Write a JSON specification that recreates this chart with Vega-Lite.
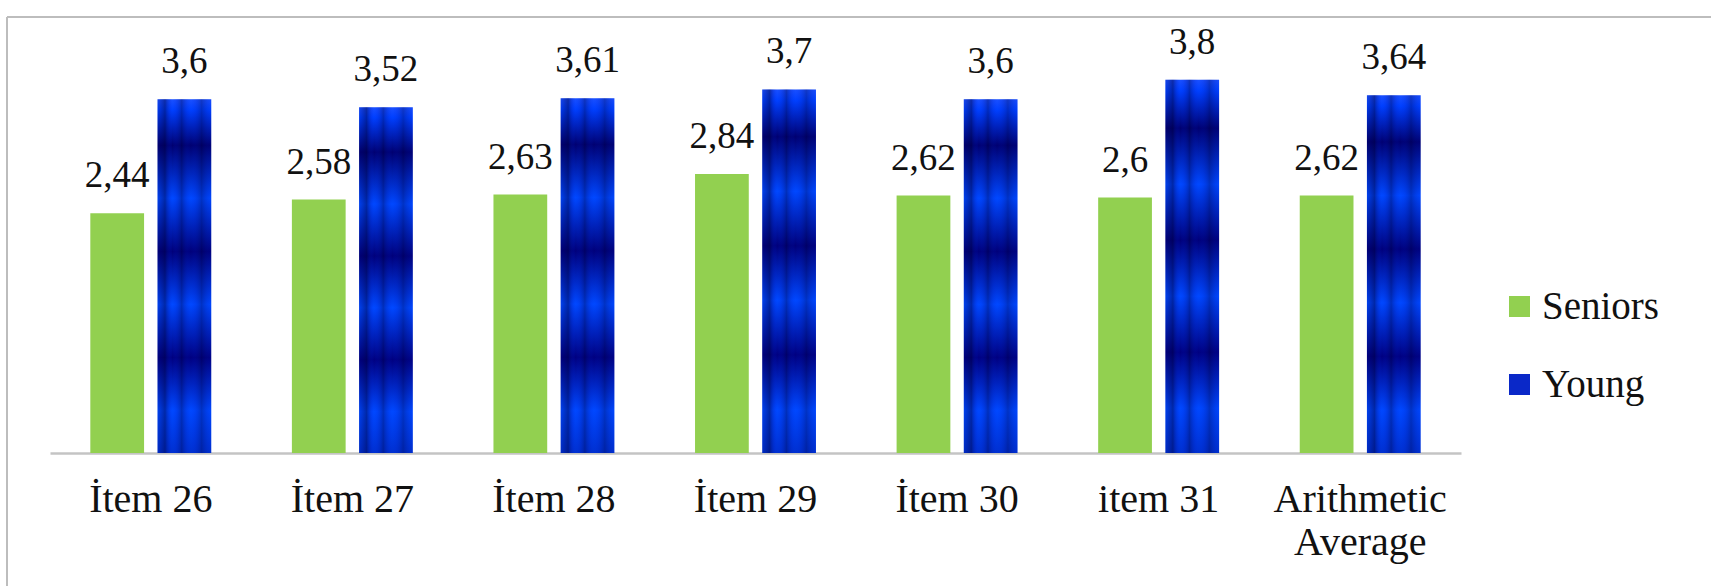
{
  "$schema": "https://vega.github.io/schema/vega-lite/v6.json",
  "width": 1704,
  "height": 569,
  "padding": {"left": 7, "top": 17, "right": 0, "bottom": 0},
  "autosize": {"type": "none"},
  "config": {
    "view": {"stroke": null},
    "font": "Liberation Serif",
    "locale": {
      "number": {"decimal": ",", "thousands": ".", "grouping": [3], "currency": ["", " €"]}
    }
  },
  "resolve": {"scale": {"x": "independent", "y": "independent"}},
  "layer": [
    {
      "data": {
        "values": [
          {"item": "İtem 26", "group": "Seniors", "value": 2.44},
          {"item": "İtem 26", "group": "Young", "value": 3.6},
          {"item": "İtem 27", "group": "Seniors", "value": 2.58},
          {"item": "İtem 27", "group": "Young", "value": 3.52},
          {"item": "İtem 28", "group": "Seniors", "value": 2.63},
          {"item": "İtem 28", "group": "Young", "value": 3.61},
          {"item": "İtem 29", "group": "Seniors", "value": 2.84},
          {"item": "İtem 29", "group": "Young", "value": 3.7},
          {"item": "İtem 30", "group": "Seniors", "value": 2.62},
          {"item": "İtem 30", "group": "Young", "value": 3.6},
          {"item": "item 31", "group": "Seniors", "value": 2.6},
          {"item": "item 31", "group": "Young", "value": 3.8},
          {"item": "Arithmetic Average", "group": "Seniors", "value": 2.62},
          {"item": "Arithmetic Average", "group": "Young", "value": 3.64}
        ]
      },
      "encoding": {
        "x": {
          "field": "item",
          "type": "nominal",
          "scale": {
            "domain": ["İtem 26", "İtem 27", "İtem 28", "İtem 29", "İtem 30", "item 31", "Arithmetic Average"],
            "range": [43, 1454],
            "paddingInner": 0.4,
            "paddingOuter": 0.2
          },
          "axis": {
            "title": null,
            "orient": "bottom",
            "offset": -133,
            "ticks": false,
            "grid": false,
            "domainColor": "#c4c4c4",
            "domainWidth": 2.5,
            "labelFont": "Liberation Serif",
            "labelFontSize": 40,
            "labelColor": "#111111",
            "labelAngle": 0,
            "labelBaseline": "alphabetic",
            "labelPadding": 58,
            "labelLineHeight": 43,
            "labelOverlap": false,
            "labelLimit": 0,
            "labelExpr": "datum.value == 'Arithmetic Average' ? ['Arithmetic', 'Average'] : datum.label"
          }
        },
        "xOffset": {
          "field": "group",
          "type": "nominal",
          "scale": {"domain": ["Seniors", "Young"], "paddingInner": 0.2, "paddingOuter": 0}
        },
        "y": {
          "field": "value",
          "type": "quantitative",
          "scale": {"domain": [0, 4], "range": [436, 43], "nice": false},
          "axis": null
        }
      },
      "layer": [
        {
          "transform": [{"filter": "datum.group == 'Seniors'"}],
          "mark": {"type": "bar"},
          "encoding": {
            "color": {
              "field": "group",
              "type": "nominal",
              "scale": {"domain": ["Seniors", "Young"], "range": ["#92d050", "#0a28c8"]},
              "legend": {
                "title": null,
                "orient": "none",
                "legendX": 1493,
                "legendY": 270,
                "padding": 0,
                "symbolType": "square",
                "symbolSize": 440,
                "symbolStrokeWidth": 0,
                "labelFont": "Liberation Serif",
                "labelFontSize": 39,
                "labelColor": "#111111",
                "labelOffset": 3,
                "rowPadding": 38
              }
            }
          }
        },
        {
          "transform": [{"filter": "datum.group == 'Young'"}],
          "mark": {
            "type": "bar",
            "fill": {
              "gradient": "linear",
              "x1": 0, "y1": 0, "x2": 0, "y2": 1,
              "stops": [
                {"offset": 0, "color": "#1a50ff"},
                {"offset": 0.03, "color": "#0040ff"},
                {"offset": 0.13, "color": "#000070"},
                {"offset": 0.28, "color": "#0048ff"},
                {"offset": 0.43, "color": "#00007a"},
                {"offset": 0.58, "color": "#0048ff"},
                {"offset": 0.73, "color": "#000080"},
                {"offset": 0.88, "color": "#0048ff"},
                {"offset": 1, "color": "#0030d0"}
              ]
            }
          }
        },
        {
          "transform": [{"filter": "datum.group == 'Young'"}],
          "mark": {
            "type": "bar",
            "fill": {
              "gradient": "linear",
              "x1": 0, "y1": 0, "x2": 1, "y2": 0,
              "stops": [
                {"offset": 0, "color": "rgba(0,0,90,0.1)"},
                {"offset": 0.14, "color": "rgba(0,0,60,0.45)"},
                {"offset": 0.28, "color": "rgba(0,40,255,0)"},
                {"offset": 0.45, "color": "rgba(0,0,60,0.35)"},
                {"offset": 0.62, "color": "rgba(0,40,255,0)"},
                {"offset": 0.82, "color": "rgba(0,0,60,0.3)"},
                {"offset": 1, "color": "rgba(0,30,200,0.05)"}
              ]
            }
          }
        },
        {
          "mark": {
            "type": "text",
            "baseline": "alphabetic",
            "align": "center",
            "dy": -26,
            "font": "Liberation Serif",
            "fontSize": 37,
            "color": "#111111"
          },
          "encoding": {
            "text": {"field": "value", "type": "quantitative", "format": ".3~g"}
          }
        }
      ]
    },
    {
      "data": {"values": [{"edge": "frame"}]},
      "layer": [
        {
          "mark": {"type": "rule", "color": "#bdbdbd", "strokeWidth": 2},
          "encoding": {
            "x": {
              "datum": 0,
              "type": "quantitative",
              "scale": {"domain": [0, 1], "nice": false, "zero": false},
              "axis": null
            }
          }
        },
        {
          "mark": {"type": "rule", "color": "#bdbdbd", "strokeWidth": 2},
          "encoding": {
            "y": {
              "datum": 1,
              "type": "quantitative",
              "scale": {"domain": [0, 1], "nice": false, "zero": false},
              "axis": null
            }
          }
        }
      ]
    }
  ]
}
